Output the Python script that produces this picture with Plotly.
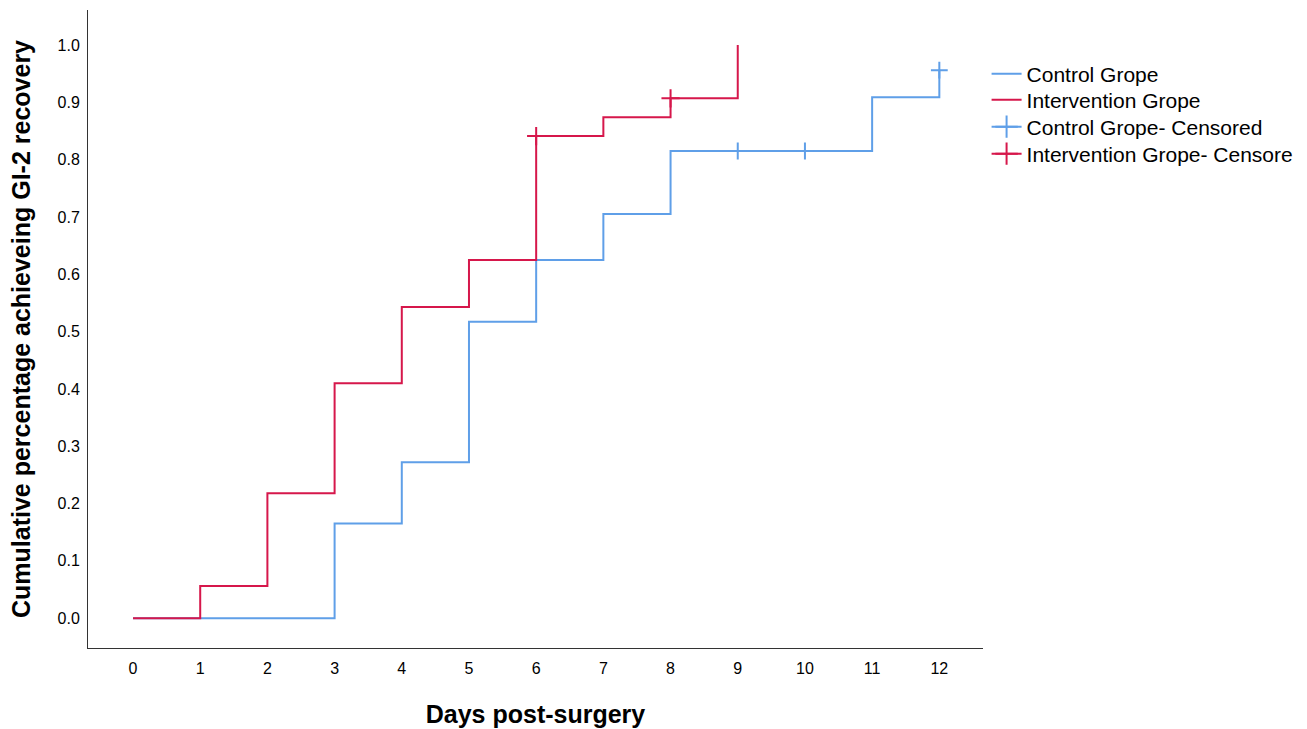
import plotly.graph_objects as go

# Data
control_days = [0, 3, 4, 5, 6, 7, 8, 11, 12]
control_cum = [0.0, 0.165, 0.272, 0.517, 0.625, 0.705, 0.815, 0.909, 0.956]
control_cens_days = [9, 10, 12]
control_cens_cum = [0.815, 0.815, 0.956]

interv_days = [0, 1, 2, 3, 4, 5, 6, 7, 8, 9]
interv_cum = [0.0, 0.056, 0.218, 0.41, 0.543, 0.625, 0.841, 0.874, 0.907, 1.0]
interv_cens_days = [6, 8]
interv_cens_cum = [0.841, 0.907]

x_ticks = list(range(0, 13))
y_ticks = [round(i * 0.1, 1) for i in range(0, 11)]

BLUE = "#5f9fe8"
RED = "#d6174b"

fig = go.Figure()

fig.add_trace(go.Scatter(x=control_days, y=control_cum, mode="lines",
                         line=dict(color=BLUE, width=2, shape="hv"),
                         name="Control Grope", legend="legend"))
fig.add_trace(go.Scatter(x=control_cens_days, y=control_cens_cum, mode="markers",
                         marker=dict(symbol="cross-thin", size=12,
                                     line=dict(color=BLUE, width=2)),
                         showlegend=False))
fig.add_trace(go.Scatter(x=interv_days, y=interv_cum, mode="lines",
                         line=dict(color=RED, width=2, shape="hv"),
                         name="Intervention Grope", legend="legend2"))
fig.add_trace(go.Scatter(x=interv_cens_days, y=interv_cens_cum, mode="markers",
                         marker=dict(symbol="cross-thin", size=13,
                                     line=dict(color=RED, width=2)),
                         showlegend=False))
# legend-only entries for censored marks
fig.add_trace(go.Scatter(x=[None], y=[None], mode="lines+markers",
                         line=dict(color=BLUE, width=2),
                         marker=dict(symbol="cross-thin", size=18,
                                     line=dict(color=BLUE, width=2)),
                         name="Control Grope- Censored", legend="legend3"))
fig.add_trace(go.Scatter(x=[None], y=[None], mode="lines+markers",
                         line=dict(color=RED, width=2),
                         marker=dict(symbol="cross-thin", size=18,
                                     line=dict(color=RED, width=2)),
                         name="Intervention Grope- Censore", legend="legend4"))

font_family = "Liberation Sans, Arial, sans-serif"


def leg(y):
    return dict(x=1.004, y=y, xanchor="left", yanchor="middle",
                font=dict(size=21, family=font_family, color="#000000"),
                itemwidth=30, bgcolor="rgba(0,0,0,0)")


fig.update_layout(
    width=1307, height=729,
    margin=dict(l=88, r=324, t=10, b=81, autoexpand=False),
    plot_bgcolor="white", paper_bgcolor="white",
    font=dict(family=font_family, color="#000000"),
    legend=leg(0.8997), legend2=leg(0.8589), legend3=leg(0.8166), legend4=leg(0.7743),
    xaxis=dict(range=[-0.67, 12.65], tickvals=x_ticks,
               ticktext=[str(t) for t in x_ticks],
               showgrid=False, zeroline=False, showline=True,
               linecolor="#333333", linewidth=1, ticks="",
               ticklabelstandoff=6, automargin=False,
               tickfont=dict(size=16, family=font_family, color="#000000"),
               title=dict(text="<b>Days post-surgery</b>", standoff=29,
                          font=dict(size=25, family=font_family, color="#000000"))),
    yaxis=dict(range=[-0.052, 1.061], tickvals=y_ticks,
               ticktext=[f"{t:.1f}" for t in y_ticks],
               showgrid=False, zeroline=False, showline=True,
               linecolor="#333333", linewidth=1, ticks="",
               ticklabelstandoff=4, automargin=False,
               tickfont=dict(size=16, family=font_family, color="#000000"),
               title=dict(text="<b>Cumulative percentage achieveing GI-2 recovery</b>",
                          standoff=19,
                          font=dict(size=25, family=font_family, color="#000000"))),
)

fig.write_html("out.html", config={"displayModeBar": False},
               post_script="document.body.style.margin='0';document.body.style.padding='0';")
